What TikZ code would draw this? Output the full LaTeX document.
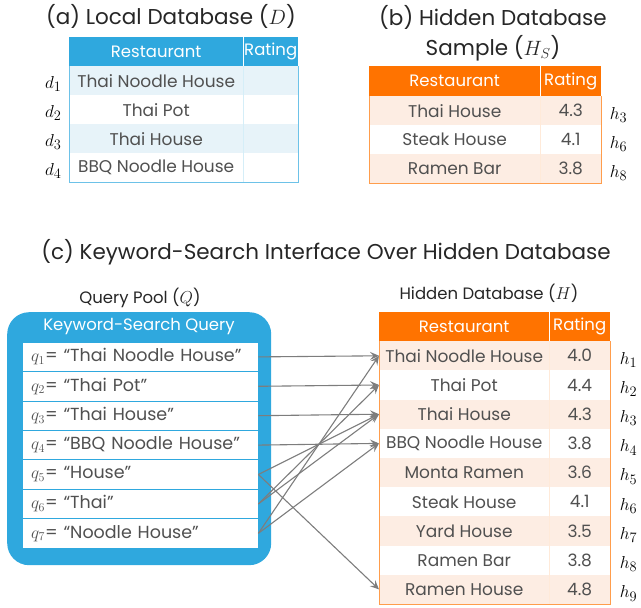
\documentclass[tikz,border=0pt]{standalone}
\usepackage{fontspec}
\setmainfont{Poppins}
\usetikzlibrary{arrows.meta}

\definecolor{localblue}{RGB}{47,168,222}
\definecolor{localpale}{RGB}{231,243,249}
\definecolor{hiddenorange}{RGB}{255,115,0}
\definecolor{hiddenpale}{RGB}{253,237,227}
\definecolor{celltext}{RGB}{80,80,80}
\definecolor{linkgray}{RGB}{125,125,125}

\tikzset{
  sectiontitle/.style={font=\fontsize{21.5}{30}\selectfont, text=black!85},
  subtitle/.style={font=\fontsize{16.5}{19}\selectfont, text=black!85},
  headcell/.style={fill=#1, text=white, anchor=north west, inner sep=0pt, minimum height=29pt, font=\fontsize{16.5}{19}\selectfont},
  bodycell/.style={fill=#1, text=celltext, anchor=north west, inner sep=0pt, minimum height=29pt, font=\fontsize{17}{20}\selectfont},
  rowlabel/.style={anchor=west, font=\fontsize{19}{22}\selectfont},
  query/.style={fill=white, text=celltext, anchor=north west, inner xsep=8pt, inner ysep=0pt, minimum height=28.4pt, text width=219pt, align=left, font=\fontsize{17.5}{20}\selectfont},
  link/.style={draw=linkgray, line width=1.1pt, -{Stealth[length=9pt,width=8pt,inset=3.5pt]}}
}

\begin{document}
\begin{tikzpicture}[x=1pt,y=-1pt]
\useasboundingbox (0,0) rectangle (641,608);

% (a) local database
\node[sectiontitle] (titleA) at (171,16) {(a) Local Database ($D$)};
\node[headcell=localblue, minimum width=174pt] (Dhead) at (69,37) {Restaurant};
\node[headcell=localblue, minimum width=55pt] (Dhrate) at (243,37) {Rating};
\foreach \name/\shade [count=\i] in {Thai Noodle House/localpale, Thai Pot/white, Thai House/localpale, BBQ Noodle House/white}{
  \node[bodycell=\shade, minimum width=174pt] (d\i) at (69,{66+29*(\i-1)}) {\name};
  \node[bodycell=\shade, minimum width=55pt] (dr\i) at (243,{66+29*(\i-1)}) {};
  \node[rowlabel, anchor=east] (dl\i) at ([xshift=-4pt,yshift=-3pt]d\i.west) {$d_{\i}$};
}
\draw[white, line width=1pt] (Dhrate.north west) -- (Dhrate.south west);
\draw[localblue!20] (dr1.north west) -- (dr4.south west);
\draw[localblue!70, line width=0.8pt] (Dhead.south west) -- (d4.south west) -- (dr4.south east) -- (Dhrate.south east);

% (b) sample of the hidden database
\node[sectiontitle, align=center] (titleB) at (493,33) {(b) Hidden Database\\Sample ($H_S$)};
\node[headcell=hiddenorange, minimum width=171pt, minimum height=30pt] (Shead) at (369,66) {Restaurant};
\node[headcell=hiddenorange, minimum width=61pt, minimum height=30pt] (Shrate) at (540,66) {Rating};
\foreach \name/\rate/\id/\shade [count=\i] in {Thai House/4.3/3/hiddenpale, Steak House/4.1/6/white, Ramen Bar/3.8/8/hiddenpale}{
  \node[bodycell=\shade, minimum width=171pt] (s\i) at (369,{96+29*(\i-1)}) {\name};
  \node[bodycell=\shade, minimum width=61pt] (sr\i) at (540,{96+29*(\i-1)}) {\rate};
  \node[rowlabel] (sl\i) at ([xshift=5pt,yshift=-4pt]sr\i.east) {$h_{\id}$};
}
\draw[white, line width=1pt] (Shrate.north west) -- (Shrate.south west);
\draw[hiddenorange!15] (sr1.north west) -- (sr3.south west);
\draw[hiddenorange!70, line width=1pt] (Shead.south west) -- (s3.south west) -- (sr3.south east) -- (Shrate.south east);

% (c) keyword search interface
\node[sectiontitle] (titleC) at (326,252) {(c) Keyword-Search Interface Over Hidden Database};

% query pool
\node[subtitle] (poolname) at (140,298) {Query Pool ($Q$)};
\node[fill=localblue, rounded corners=22pt, anchor=north west, minimum width=264pt, minimum height=253pt] (pool) at (7,312) {};
\node[text=white, font=\fontsize{16.5}{19}\selectfont] (poolhead) at (139,327) {Keyword-Search Query};
\foreach \query [count=\i] in {Thai Noodle House, Thai Pot, Thai House, BBQ Noodle House, House, Thai, Noodle House}{
  \node[query] (q\i) at (23,{342.5+29.4*(\i-1)}) {$q_{\i}$= “\query”};
}

% hidden database
\node[subtitle] (hiddenname) at (489,293) {Hidden Database ($H$)};
\node[headcell=hiddenorange, minimum width=170pt] (Hhead) at (379,312) {Restaurant};
\node[headcell=hiddenorange, minimum width=61pt] (Hhrate) at (549,312) {Rating};
\foreach \name/\rate/\shade [count=\i] in {Thai Noodle House/4.0/hiddenpale, Thai Pot/4.4/white, Thai House/4.3/hiddenpale, BBQ Noodle House/3.8/white, Monta Ramen/3.6/hiddenpale, Steak House/4.1/white, Yard House/3.5/hiddenpale, Ramen Bar/3.8/white, Ramen House/4.8/hiddenpale}{
  \node[bodycell=\shade, minimum width=170pt, minimum height=29.2pt] (h\i) at (379,{341+29.2*(\i-1)}) {\name};
  \node[bodycell=\shade, minimum width=61pt, minimum height=29.2pt] (hr\i) at (549,{341+29.2*(\i-1)}) {\rate};
  \node[rowlabel] (hl\i) at ([xshift=6pt,yshift=-4pt]hr\i.east) {$h_{\i}$};
}
\draw[white, line width=1pt] (Hhrate.north west) -- (Hhrate.south west);
\draw[hiddenorange!15] (hr1.north west) -- (hr9.south west);
\draw[hiddenorange!70, line width=1pt] (Hhead.south west) -- (h9.south west) -- (hr9.south east) -- (Hhrate.south east);

% queries hitting the hidden database
\foreach \from/\to in {1/1, 2/2, 3/3, 4/4, 5/3, 5/9, 6/2, 6/3, 7/1, 7/4}
  \draw[link] (q\from.east) -- (h\to.west);
\end{tikzpicture}
\end{document}
